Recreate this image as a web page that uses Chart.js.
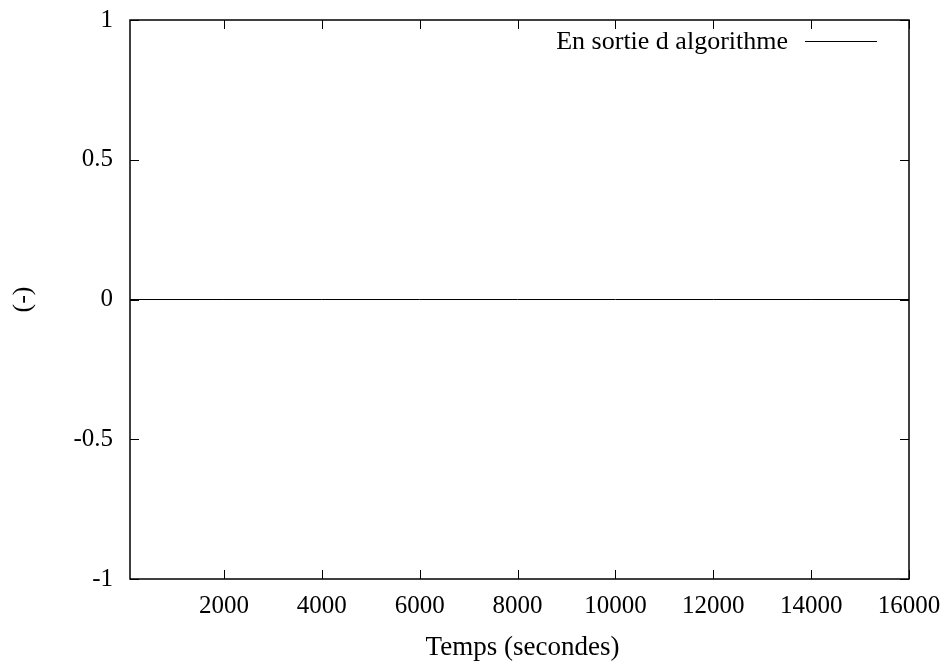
<!DOCTYPE html>
<html>
<head>
<meta charset="utf-8">
<script src="https://cdn.jsdelivr.net/npm/chart.js@4.4.1/dist/chart.umd.min.js"></script>
<style>
  html, body { margin: 0; padding: 0; background: #fff; }
  #chart { display: block; }
</style>
</head>
<body>
<canvas id="chart" width="946" height="662"></canvas>
<script>
// Données
const timeValues = [80, 2000, 4000, 6000, 8000, 10000, 12000, 14000, 16000];
const outputValues = [0, 0, 0, 0, 0, 0, 0, 0, 0];
const xTicks = [2000, 4000, 6000, 8000, 10000, 12000, 14000, 16000];
const yTicks = [-1, -0.5, 0, 0.5, 1];
const yTickLabels = ['-1', '-0.5', '0', '0.5', '1'];

const seriesLabel = 'En sortie d algorithme';
const xTitle = 'Temps (secondes)';
const yTitle = '(-)';

const FONT = '"Liberation Serif", "Times New Roman", serif';
const INK = '#000';

// on enlève les marges que Chart.js réserve pour les étiquettes
function noScalePadding(s) {
  s.paddingTop = 0; s.paddingBottom = 0;
  s.paddingLeft = 0; s.paddingRight = 0;
}

// Cadre, graduations vers l'intérieur, légende et titres (style gnuplot)
const gnuplotFrame = {
  id: 'gnuplotFrame',
  afterDatasetsDraw(chart) {
    const { ctx, chartArea: a, scales } = chart;
    const x = scales.x, y = scales.y;
    const tick = 9;
    ctx.save();
    ctx.strokeStyle = INK;
    ctx.lineWidth = 1.5;
    ctx.strokeRect(a.left, a.top, a.right - a.left, a.bottom - a.top);

    ctx.lineWidth = 1;
    ctx.beginPath();
    xTicks.forEach(v => {
      const px = Math.round(x.getPixelForValue(v)) + 0.5;
      ctx.moveTo(px, a.bottom); ctx.lineTo(px, a.bottom - tick);
      ctx.moveTo(px, a.top); ctx.lineTo(px, a.top + tick);
    });
    yTicks.forEach(v => {
      const py = Math.round(y.getPixelForValue(v)) + 0.5;
      ctx.moveTo(a.left, py); ctx.lineTo(a.left + tick, py);
      ctx.moveTo(a.right, py); ctx.lineTo(a.right - tick, py);
    });
    ctx.stroke();

    // légende
    const ds = chart.data.datasets[0];
    ctx.font = '26px ' + FONT;
    ctx.fillStyle = INK;
    ctx.textAlign = 'right';
    ctx.textBaseline = 'alphabetic';
    ctx.fillText(ds.label, 788, 49);
    ctx.strokeStyle = ds.borderColor;
    ctx.lineWidth = ds.borderWidth;
    ctx.beginPath();
    ctx.moveTo(805, 41.5); ctx.lineTo(877, 41.5);
    ctx.stroke();

    // titres des axes
    ctx.textAlign = 'center';
    ctx.font = '27px ' + FONT;
    ctx.fillText(xTitle, (a.left + a.right) / 2 + 3, 655);
    ctx.font = '26px ' + FONT;
    ctx.translate(23, (a.top + a.bottom) / 2);
    ctx.rotate(-Math.PI / 2);
    ctx.textBaseline = 'middle';
    ctx.fillText(yTitle, 0, 0);
    ctx.restore();
  }
};

new Chart(document.getElementById('chart'), {
  type: 'line',
  data: {
    labels: timeValues,
    datasets: [{
      label: seriesLabel,
      data: timeValues.map((t, i) => ({ x: t, y: outputValues[i] })),
      borderColor: '#000',
      borderWidth: 1,
      pointRadius: 0,
      fill: false,
      tension: 0
    }]
  },
  options: {
    responsive: false,
    animation: false,
    layout: { padding: { top: 20, right: 37, left: 0, bottom: 0 } },
    plugins: {
      legend: { display: false },
      tooltip: { enabled: false }
    },
    scales: {
      x: {
        type: 'linear',
        min: 80,
        max: 16000,
        afterBuildTicks: s => { s.ticks = xTicks.map(v => ({ value: v })); },
        afterFit: s => { s.height = 83; noScalePadding(s); },
        grid: { display: false, drawTicks: false },
        border: { display: false },
        ticks: {
          font: { family: FONT, size: 25 },
          color: INK,
          padding: 12,
          maxRotation: 0,
          autoSkip: false,
          callback: v => String(v)
        }
      },
      y: {
        type: 'linear',
        min: -1,
        max: 1,
        afterBuildTicks: s => { s.ticks = yTicks.map(v => ({ value: v })); },
        afterFit: s => { s.width = 130; noScalePadding(s); },
        grid: { display: false, drawTicks: false },
        border: { display: false },
        ticks: {
          font: { family: FONT, size: 25 },
          color: INK,
          padding: 17,
          autoSkip: false,
          callback: v => yTickLabels[yTicks.indexOf(v)]
        }
      }
    }
  },
  plugins: [gnuplotFrame]
});
</script>
</body>
</html>
